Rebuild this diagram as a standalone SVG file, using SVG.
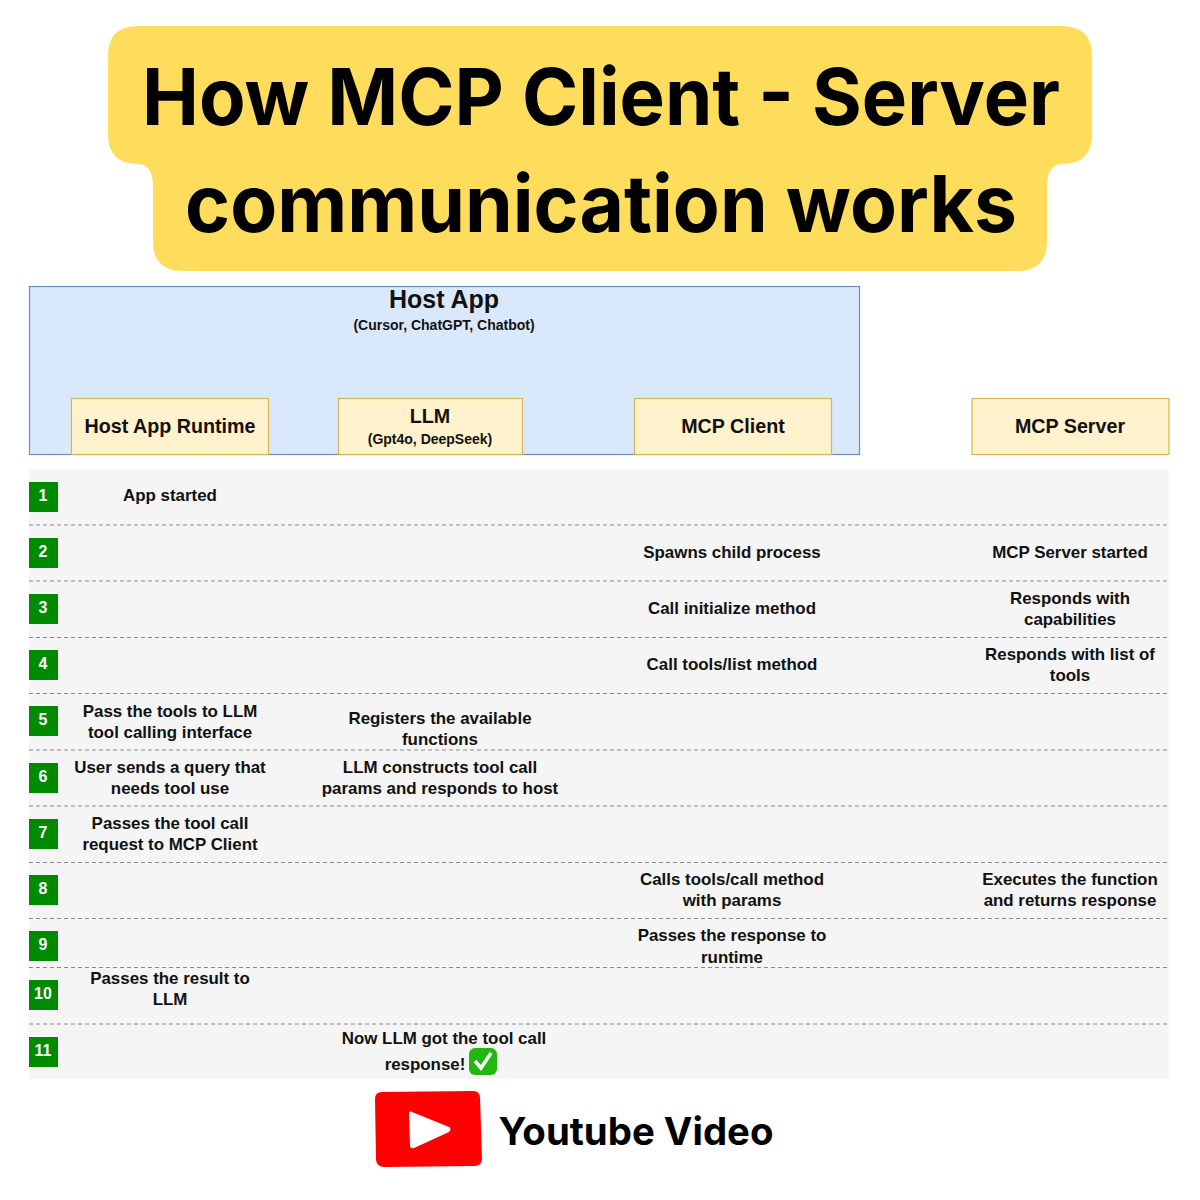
<svg xmlns="http://www.w3.org/2000/svg" width="1200" height="1200" viewBox="0 0 1200 1200">
<style>
.t{font-family:"Liberation Sans",Arial,sans-serif;font-weight:700;fill:#111;text-anchor:middle}
.s{font-size:16.9px}
.h{font-size:19.7px}
.sm{font-size:14px}
.ti{font-family:"Inter","Open Sans",sans-serif;font-weight:700;fill:#000;text-anchor:middle}
.box{fill:#fff2cc;stroke:#d6b656;stroke-width:1.2}
.badge{fill:#008a00}
.n{font-family:"Liberation Sans",Arial,sans-serif;font-weight:700;font-size:16px;fill:#fff;text-anchor:middle}
.sep{stroke:#8a8a8a;stroke-width:1;stroke-dasharray:4 3;fill:none}
</style>
<rect width="1200" height="1200" fill="#fff"/>
<g id="title">
<path fill="#ffdd5c" d="M138 26H1062Q1092 26 1092 56V134Q1092 164 1062 164Q1047 165 1047 186V241Q1047 271 1017 271H183Q153 271 153 241V186Q153 165 138 164Q108 164 108 134V56Q108 26 138 26Z"/>
<text class="ti" x="601" y="125" font-size="79" textLength="918" lengthAdjust="spacingAndGlyphs">How MCP Client - Server</text>
<text class="ti" x="601" y="232" font-size="79" textLength="832" lengthAdjust="spacingAndGlyphs">communication works</text>
</g>
<g id="host-app">
<rect x="29.500" y="286.500" width="830" height="168" fill="#dae8fc" stroke="#6c8ebf" stroke-width="1.200"/>
<text class="t" x="444" y="308" font-size="25">Host App</text>
<text class="t sm" x="444" y="330">(Cursor, ChatGPT, Chatbot)</text>
</g>
<g id="host-app-runtime">
<rect class="box" x="71.500" y="398.500" width="197" height="56"/>
<text class="t h" x="170" y="433">Host App Runtime</text>
</g>
<g id="llm">
<rect class="box" x="338.500" y="398.500" width="184" height="56"/>
<text class="t h" x="430" y="423">LLM</text>
<text class="t sm" x="430" y="444">(Gpt4o, DeepSeek)</text>
</g>
<g id="mcp-client">
<rect class="box" x="634.500" y="398.500" width="197" height="56"/>
<text class="t h" x="733" y="433">MCP Client</text>
</g>
<g id="mcp-server">
<rect class="box" x="972" y="398.500" width="197" height="56"/>
<text class="t h" x="1070" y="433">MCP Server</text>
</g>
<g id="swimlane">
<rect x="29" y="469" width="1140" height="610" fill="#f5f5f5"/>
</g>
<g id="connectors">
<path class="sep" d="M29 525H1169M29 581H1169M29 637.500H1169M29 693.500H1169M29 750H1169M29 806H1169M29 862.500H1169M29 918.500H1169M29 967.500H1169M29 1024H1169"/>
</g>
<g id="badges">
<rect class="badge" x="29" y="482" width="29" height="30"/><text class="n" x="43" y="501">1</text>
<rect class="badge" x="29" y="538" width="29" height="30"/><text class="n" x="43" y="557">2</text>
<rect class="badge" x="29" y="594" width="29" height="30"/><text class="n" x="43" y="613">3</text>
<rect class="badge" x="29" y="650" width="29" height="30"/><text class="n" x="43" y="669">4</text>
<rect class="badge" x="29" y="706" width="29" height="30"/><text class="n" x="43" y="725">5</text>
<rect class="badge" x="29" y="763" width="29" height="30"/><text class="n" x="43" y="782">6</text>
<rect class="badge" x="29" y="819" width="29" height="30"/><text class="n" x="43" y="838">7</text>
<rect class="badge" x="29" y="875" width="29" height="30"/><text class="n" x="43" y="894">8</text>
<rect class="badge" x="29" y="931" width="29" height="30"/><text class="n" x="43" y="950">9</text>
<rect class="badge" x="29" y="980" width="29" height="30"/><text class="n" x="43" y="999">10</text>
<rect class="badge" x="29" y="1037" width="29" height="30"/><text class="n" x="43" y="1056">11</text>
</g>
<g id="labels">
<text class="t s" x="170" y="501">App started</text>
<text class="t s" x="732" y="558">Spawns child process</text>
<text class="t s" x="1070" y="558">MCP Server started</text>
<text class="t s" x="732" y="614">Call initialize method</text>
<text class="t s" x="1070" y="604">Responds with</text>
<text class="t s" x="1070" y="625">capabilities</text>
<text class="t s" x="732" y="670">Call tools/list method</text>
<text class="t s" x="1070" y="660">Responds with list of</text>
<text class="t s" x="1070" y="681">tools</text>
<text class="t s" x="170" y="717">Pass the tools to LLM</text>
<text class="t s" x="170" y="738">tool calling interface</text>
<text class="t s" x="440" y="724">Registers the available</text>
<text class="t s" x="440" y="745">functions</text>
<text class="t s" x="170" y="773">User sends a query that</text>
<text class="t s" x="170" y="794">needs tool use</text>
<text class="t s" x="440" y="773">LLM constructs tool call</text>
<text class="t s" x="440" y="794">params and responds to host</text>
<text class="t s" x="170" y="829">Passes the tool call</text>
<text class="t s" x="170" y="850">request to MCP Client</text>
<text class="t s" x="732" y="885">Calls tools/call method</text>
<text class="t s" x="732" y="906">with params</text>
<text class="t s" x="1070" y="885">Executes the function</text>
<text class="t s" x="1070" y="906">and returns response</text>
<text class="t s" x="732" y="941">Passes the response to</text>
<text class="t s" x="732" y="963">runtime</text>
<text class="t s" x="170" y="984">Passes the result to</text>
<text class="t s" x="170" y="1005">LLM</text>
<text class="t s" x="444" y="1044">Now LLM got the tool call</text>
<text class="t s" x="425" y="1070">response!</text>
</g>
<g id="check">
<rect x="469" y="1048" width="28" height="27" rx="6" fill="#22b80f"/>
<path d="M475 1061L481 1068L491 1053" fill="none" stroke="#fff" stroke-width="3.500"/>
</g>
<g id="youtube">
<path fill="#f00" d="M382 1092L473 1091Q480 1091 480 1098L482 1159Q482 1165 475 1166L384 1167Q377 1167 376 1160L375 1099Q375 1092 382 1092Z"/>
<path fill="#fff" d="M412 1112Q409 1110 409 1114L410 1145Q410 1149 414 1148L449 1132Q452 1129 449 1127Z"/>
<text x="636" y="1145" font-family="Inter,Open Sans,sans-serif" font-weight="700" font-size="38" text-anchor="middle" fill="#000" textLength="275" lengthAdjust="spacingAndGlyphs">Youtube Video</text>
</g>
</svg>
